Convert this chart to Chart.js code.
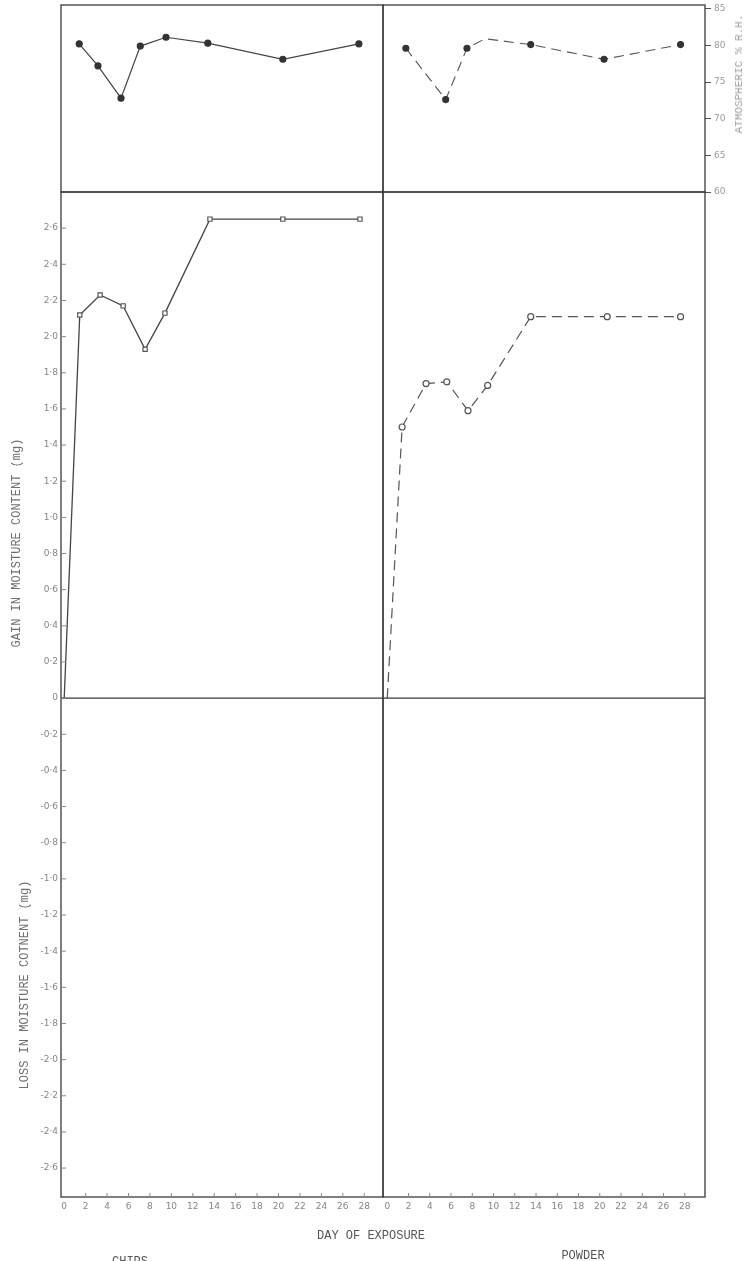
<!DOCTYPE html>
<html>
<head>
<meta charset="utf-8">
<script src="https://cdn.jsdelivr.net/npm/chart.js@4.4.1/dist/chart.umd.min.js"></script>
<style>
  html, body { margin: 0; padding: 0; background: #fff; }
  #page { position: relative; width: 750px; height: 1261px; overflow: hidden; background: #fff; }
  #page canvas { position: absolute; left: 0; top: 0; }
  .lbl { position: absolute; font-family: "Liberation Mono", "DejaVu Sans Mono", monospace; color: #707070; white-space: nowrap; }
  .rot { transform: translate(-50%, -50%) rotate(-90deg); }
  .ctr { transform: translate(-50%, -50%); }
</style>
</head>
<body>
<div id="page">
  <canvas id="humChips" width="750" height="1261"></canvas>
  <canvas id="humPowder" width="750" height="1261"></canvas>
  <canvas id="gainChips" width="750" height="1261"></canvas>
  <canvas id="gainPowder" width="750" height="1261"></canvas>

  <div class="lbl rot" style="left:17px;top:543px;font-size:12px;">GAIN IN MOISTURE CONTENT (mg)</div>
  <div class="lbl rot" style="left:25px;top:985px;font-size:12px;">LOSS IN MOISTURE COTNENT (mg)</div>
  <div class="lbl rot" style="left:739px;top:74px;font-size:11px;color:#a0a0a0;">ATMOSPHERIC % R.H.</div>
  <div class="lbl ctr" style="left:371px;top:1236px;font-size:12px;color:#555;">DAY OF EXPOSURE</div>
  <div class="lbl ctr" style="left:130px;top:1262px;font-size:12px;color:#555;">CHIPS</div>
  <div class="lbl ctr" style="left:583px;top:1256px;font-size:12px;color:#555;">POWDER</div>
</div>

<script>
// Day of exposure and measured values
const dayTicks = [0, 2, 4, 6, 8, 10, 12, 14, 16, 18, 20, 22, 24, 26, 28];
const humidityTicks = [60, 65, 70, 75, 80, 85];
const moistureTicks = [2.6, 2.4, 2.2, 2.0, 1.8, 1.6, 1.4, 1.2, 1.0, 0.8, 0.6, 0.4, 0.2, 0,
  -0.2, -0.4, -0.6, -0.8, -1.0, -1.2, -1.4, -1.6, -1.8, -2.0, -2.2, -2.4, -2.6];

const chipsHumDays = [1.4, 3.15, 5.3, 7.1, 9.5, 13.4, 20.4, 27.5];
const chipsHumidity = [80.2, 77.2, 72.8, 79.9, 81.1, 80.3, 78.1, 80.2];

const powderHumDays = [1.75, 5.5, 7.5, 9.2, 13.5, 20.4, 27.6];
const powderHumidity = [79.6, 72.6, 79.6, 80.9, 80.1, 78.1, 80.1];
const powderHumMarker = [true, true, true, false, true, true, true];

const chipsDays = [0, 1.45, 3.35, 5.5, 7.55, 9.4, 13.6, 20.4, 27.6];
const chipsGain = [0, 2.12, 2.23, 2.17, 1.93, 2.13, 2.65, 2.65, 2.65];

const powderDays = [0, 1.4, 3.65, 5.6, 7.6, 9.45, 13.5, 20.7, 27.6];
const powderGain = [0, 1.50, 1.74, 1.75, 1.59, 1.73, 2.11, 2.11, 2.11];

const toPoints = (xs, ys) => xs.map((x, i) => ({ x: x, y: ys[i] }));
const fmtMoisture = v => (Math.abs(v) < 1e-9 ? '0' : v.toFixed(1).replace('.', '\u00B7'));

// Panel frame, zero line and inward tick marks
const framePlugin = {
  id: 'frame',
  afterDatasetsDraw(chart, args, opts) {
    const { ctx, chartArea: a, scales } = chart;
    ctx.save();
    ctx.strokeStyle = '#3a3a3a';
    ctx.lineWidth = 1.3;
    ctx.strokeRect(a.left, a.top, a.right - a.left, a.bottom - a.top);
    if (opts.zero) {
      const y0 = scales.y.getPixelForValue(0);
      ctx.beginPath(); ctx.moveTo(a.left, y0); ctx.lineTo(a.right, y0); ctx.stroke();
    }
    ctx.lineWidth = 1;
    ctx.strokeStyle = '#888';
    if (opts.xTicks) {
      scales.x.ticks.forEach(t => {
        const x = scales.x.getPixelForValue(t.value);
        if (t.value === 0) return;
        ctx.beginPath(); ctx.moveTo(x, a.bottom); ctx.lineTo(x, a.bottom - 4); ctx.stroke();
      });
    }
    if (opts.yTicks) {
      scales.y.ticks.forEach(t => {
        const y = scales.y.getPixelForValue(t.value);
        ctx.beginPath(); ctx.moveTo(a.left, y); ctx.lineTo(a.left + 5, y); ctx.stroke();
      });
    }
    ctx.restore();
  }
};

const tickFont = { family: 'DejaVu Sans', size: 9 };
const tickColor = '#858585';

function baseOptions(padding, frameOpts, scales) {
  return {
    responsive: false,
    animation: false,
    devicePixelRatio: 1,
    layout: { padding: padding, autoPadding: false },
    plugins: { legend: { display: false }, tooltip: { enabled: false }, frame: frameOpts },
    scales: scales
  };
}

function hiddenX(min, max) {
  return { type: 'linear', display: false, min: min, max: max };
}
function shownX(min, max) {
  return {
    type: 'linear', min: min, max: max,
    grid: { display: false, drawTicks: false },
    border: { display: false },
    afterBuildTicks: s => { s.ticks = dayTicks.map(v => ({ value: v })); },
    afterFit: s => { s.height = 64; s.paddingLeft = 0; s.paddingRight = 0; },
    ticks: { autoSkip: false, maxRotation: 0, padding: 4, font: tickFont, color: tickColor }
  };
}

// Atmospheric relative humidity, chips
new Chart(document.getElementById('humChips'), {
  type: 'line',
  data: { datasets: [{
    data: toPoints(chipsHumDays, chipsHumidity),
    borderColor: '#444', borderWidth: 1.2, tension: 0,
    pointRadius: 3, pointBackgroundColor: '#333', pointBorderColor: '#333'
  }] },
  options: baseOptions({ left: 61, right: 367, top: 5, bottom: 1069 }, {},
    { x: hiddenX(-0.3, 29.75), y: { type: 'linear', display: false, min: 60, max: 85.5 } }),
  plugins: [framePlugin]
});

// Atmospheric relative humidity, powder
new Chart(document.getElementById('humPowder'), {
  type: 'line',
  data: { datasets: [{
    data: toPoints(powderHumDays, powderHumidity),
    borderColor: '#555', borderWidth: 1.1, borderDash: [10, 6], tension: 0,
    pointRadius: powderHumMarker.map(m => (m ? 3 : 0)),
    pointBackgroundColor: '#333', pointBorderColor: '#333'
  }] },
  options: baseOptions({ left: 383, right: 0, top: 5, bottom: 1069 }, {},
    {
      x: hiddenX(-0.4, 29.9),
      y: {
        type: 'linear', position: 'right', min: 60, max: 85.5,
        grid: { display: true, drawOnChartArea: false, drawTicks: true, tickLength: 6, color: '#555' },
        border: { display: false },
        afterBuildTicks: s => { s.ticks = humidityTicks.map(v => ({ value: v })); },
        afterFit: s => { s.width = 45; s.paddingTop = 0; s.paddingBottom = 0; },
        ticks: { padding: 3, font: tickFont, color: '#999' }
      }
    }),
  plugins: [framePlugin]
});

// Moisture gain / loss, chips
new Chart(document.getElementById('gainChips'), {
  type: 'line',
  data: { datasets: [{
    data: toPoints(chipsDays, chipsGain),
    borderColor: '#444', borderWidth: 1.3, tension: 0,
    pointStyle: 'rect',
    pointRadius: chipsDays.map((d, i) => (i === 0 ? 0 : 3)),
    pointBackgroundColor: '#fff', pointBorderColor: '#555', pointBorderWidth: 1.2
  }] },
  options: baseOptions({ left: 0, right: 367, top: 192, bottom: 0 },
    { zero: true, xTicks: true, yTicks: true },
    {
      x: shownX(-0.3, 29.75),
      y: {
        type: 'linear', min: -2.76, max: 2.80,
        grid: { display: false, drawTicks: false },
        border: { display: false },
        afterBuildTicks: s => { s.ticks = moistureTicks.map(v => ({ value: v })); },
        afterFit: s => { s.width = 61; s.paddingTop = 0; s.paddingBottom = 0; },
        ticks: { padding: 3, font: tickFont, color: tickColor, callback: v => fmtMoisture(v) }
      }
    }),
  plugins: [framePlugin]
});

// Moisture gain / loss, powder
new Chart(document.getElementById('gainPowder'), {
  type: 'line',
  data: { datasets: [{
    data: toPoints(powderDays, powderGain),
    borderColor: '#555', borderWidth: 1.2, borderDash: [10, 6], tension: 0,
    pointRadius: powderDays.map((d, i) => (i === 0 ? 0 : 3)),
    pointBackgroundColor: '#fff', pointBorderColor: '#555', pointBorderWidth: 1.2
  }] },
  options: baseOptions({ left: 383, right: 45, top: 192, bottom: 0 },
    { zero: true, xTicks: true },
    {
      x: shownX(-0.4, 29.9),
      y: { type: 'linear', display: false, min: -2.76, max: 2.80 }
    }),
  plugins: [framePlugin]
});
</script>
</body>
</html>
